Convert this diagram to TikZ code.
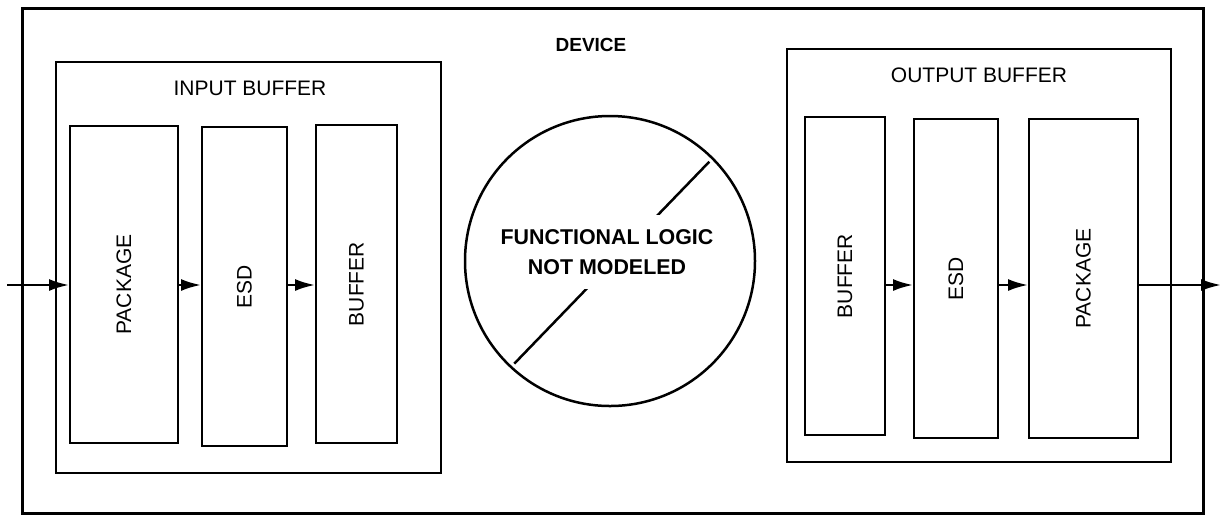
\documentclass[tikz,border=0pt]{standalone}
\usepackage{fontspec}
\setmainfont{Liberation Sans}
\usetikzlibrary{arrows.meta,calc}

\tikzset{
	khoi/.style={draw,line width=1pt,inner sep=0pt},
	nhan/.style={rotate=90,font=\fontsize{10.5}{12}\selectfont},
	tieude/.style={font=\fontsize{10.5}{12}\selectfont},
	mt/.style={line width=1.2pt,-{Latex[length=10pt,width=6pt]}}
}

\begin{document}
\begin{tikzpicture}[x=0.5pt,y=-0.5pt]
			\useasboundingbox (0,0) rectangle (1221,516);
			% Khung ngoài
			\node[khoi,line width=1.5pt,minimum width=590.5pt,minimum height=252.5pt] (device) at (612.5,260.5) {};
			\node[font=\bfseries\fontsize{9.5}{11}\selectfont] (devicetxt) at (591,45) {DEVICE};
			% Bộ đệm vào
			\node[khoi,minimum width=192.5pt,minimum height=205.5pt] (inbuf) at (248.5,267.5) {};
			\node[tieude] (inbuftxt) at (250,88) {INPUT BUFFER};
			\node[khoi,minimum width=54pt,minimum height=158.5pt] (pkgin) at (124,284.5) {};
			\node[khoi,minimum width=42.5pt,minimum height=159.5pt] (esdin) at (244.5,286.5) {};
			\node[khoi,minimum width=40.5pt,minimum height=159pt] (bufin) at (356.5,284) {};
			\node[nhan] (pkgintxt) at (pkgin) {PACKAGE};
			\node[nhan] (esdintxt) at (esdin) {ESD};
			\node[nhan] (bufintxt) at (bufin) {BUFFER};
			% Bộ đệm ra
			\node[khoi,minimum width=192pt,minimum height=206.5pt] (outbuf) at (979,255.5) {};
			\node[tieude] (outbuftxt) at (979,75) {OUTPUT BUFFER};
			\node[khoi,minimum width=40pt,minimum height=159pt] (bufout) at (845,276) {};
			\node[khoi,minimum width=42pt,minimum height=159.5pt] (esdout) at (956,278.5) {};
			\node[khoi,minimum width=54.5pt,minimum height=159.5pt] (pkgout) at (1083.5,278.5) {};
			\node[nhan] (bufouttxt) at (bufout) {BUFFER};
			\node[nhan] (esdouttxt) at (esdout) {ESD};
			\node[nhan] (pkgouttxt) at (pkgout) {PACKAGE};
			% Khối logic ở giữa
			\node[draw,circle,line width=1.25pt,minimum size=145pt,inner sep=0pt] (logic) at (610,261) {};
			\draw[line width=1.25pt] ($(logic.center)!0.96!(logic.227)$) -- ($(logic.center)!0.96!(logic.45)$);
			\node[fill=white,align=center,inner xsep=2pt,inner ysep=7pt,font=\bfseries\fontsize{10.7}{15}\selectfont] (logictxt) at (607,252) {FUNCTIONAL LOGIC\\NOT MODELED};
			% Mũi tên
			\coordinate (vao) at (7,285);
			\coordinate (ra) at (1221,285);
			\draw[mt] (vao) -- (vao -| pkgin.west);
			\draw[mt] (vao -| pkgin.east) -- (vao -| esdin.west);
			\draw[mt] (vao -| esdin.east) -- (vao -| bufin.west);
			\draw[mt] (vao -| bufout.east) -- (vao -| esdout.west);
			\draw[mt] (vao -| esdout.east) -- (vao -| pkgout.west);
			\draw[mt] (vao -| pkgout.east) -- (ra);
		\end{tikzpicture}
\end{document}
